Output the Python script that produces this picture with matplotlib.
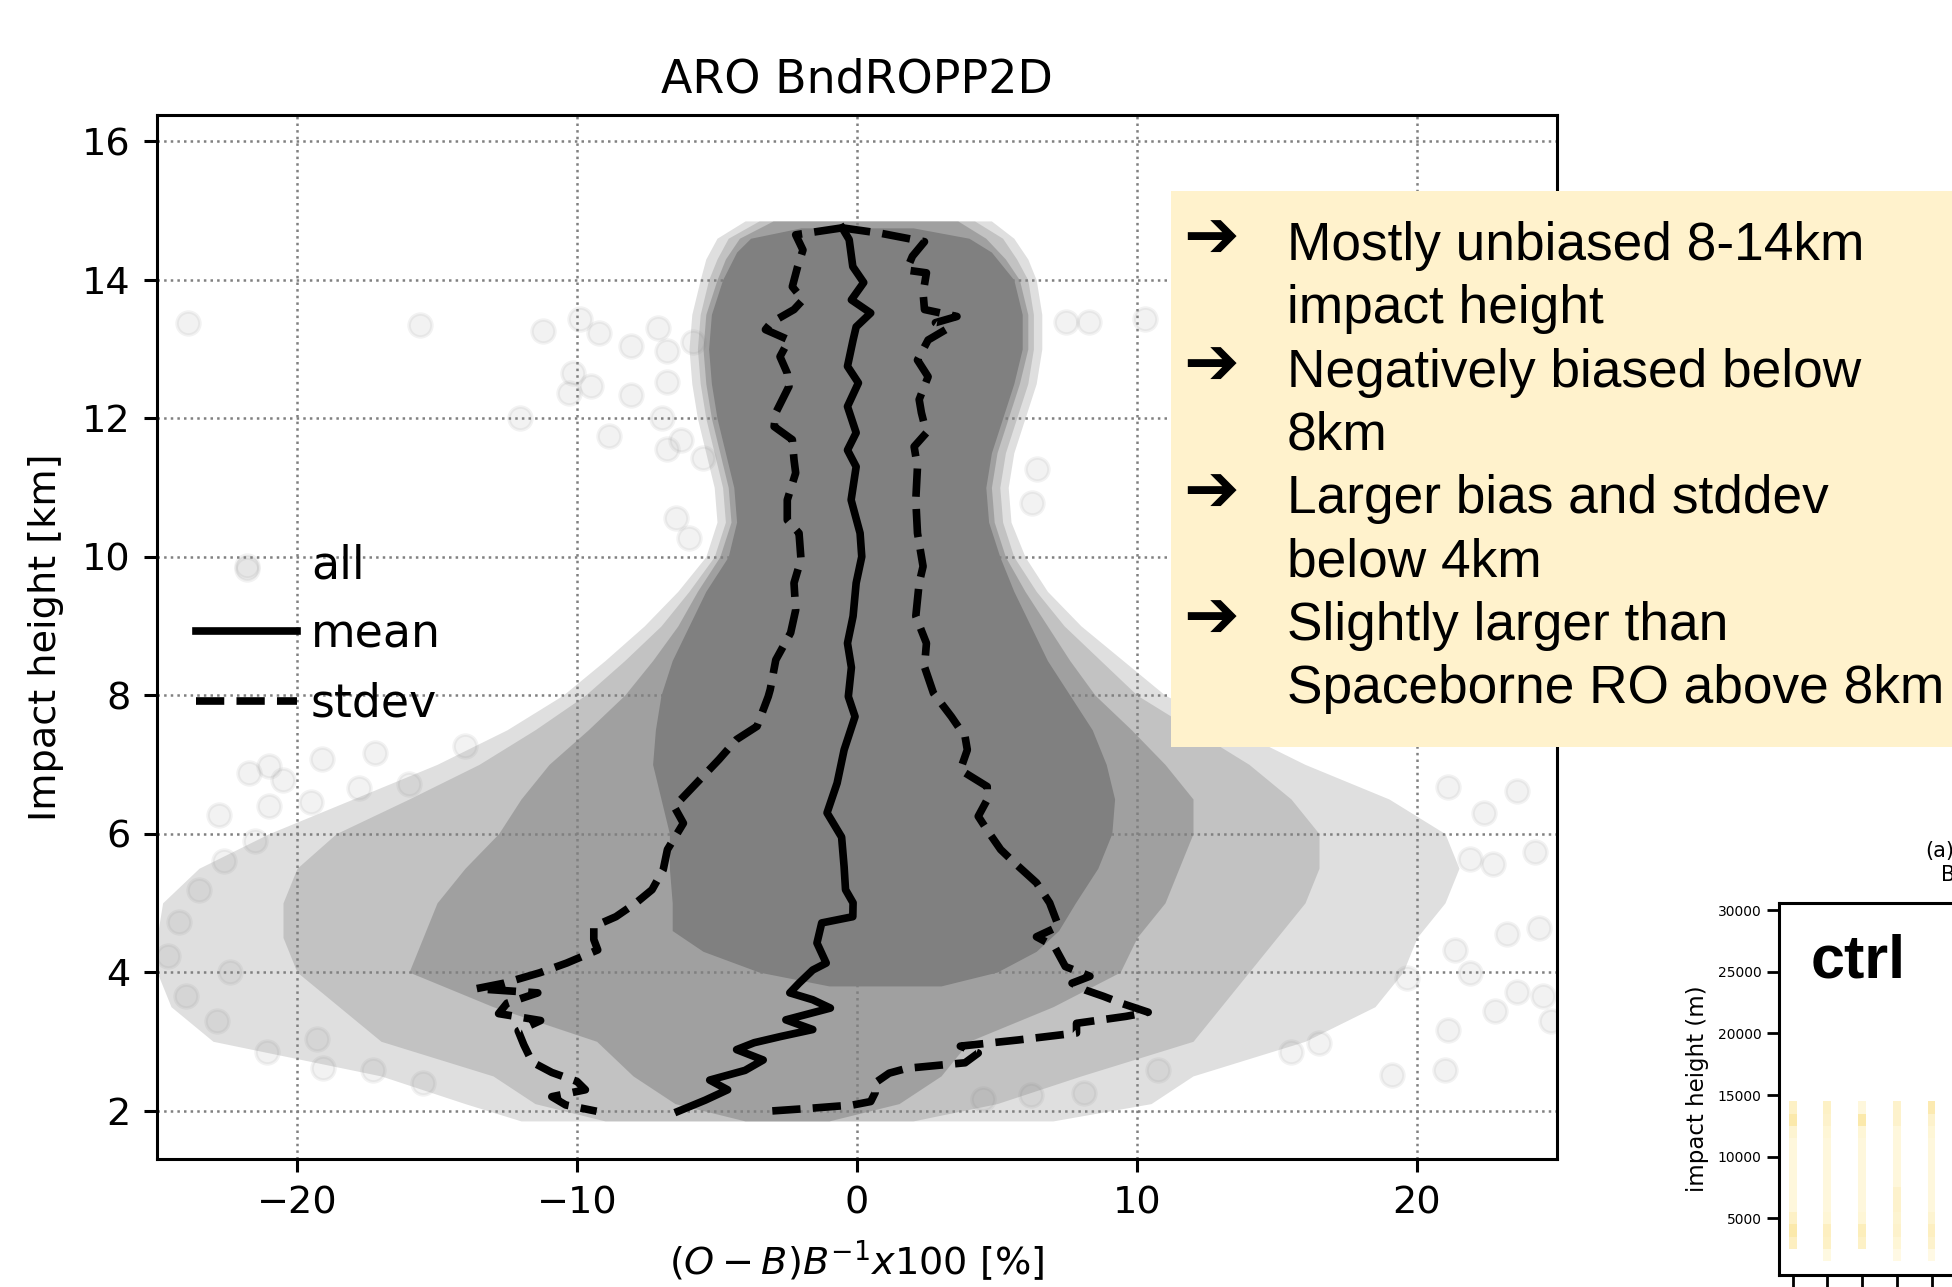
import numpy as np
import matplotlib.pyplot as plt
from matplotlib.patches import Rectangle
from matplotlib.colors import LinearSegmentedColormap

# ---- profile curves (y = impact height km, x = %) ----
mean_y = [14.75, 14.58, 14.19, 13.96, 13.71, 13.52, 13.32, 13.13, 12.75, 12.51, 12.17, 11.79,
          11.54, 11.30, 10.82, 10.34, 10.0, 9.62, 9.14, 8.75, 8.40, 7.98, 7.69, 7.21, 6.73,
          6.30, 5.95, 5.52, 5.19, 5.0, 4.80, 4.71, 4.42, 4.13, 4.03, 3.84, 3.70, 3.60, 3.48,
          3.31, 3.17, 3.07, 2.98, 2.88, 2.73, 2.58, 2.44, 2.30, 2.15, 1.99]
mean_x = [-0.53, -0.28, -0.15, 0.24, -0.2, 0.49, -0.03, -0.14, -0.34, 0.05, -0.34, -0.03,
          -0.34, -0.03, -0.21, 0.11, 0.17, -0.03, -0.14, -0.34, -0.2, -0.31, -0.07, -0.46, -0.71,
          -1.07, -0.55, -0.46, -0.41, -0.14, -0.15, -1.26, -1.43, -1.1, -1.58, -2.07, -2.4, -1.58, -0.95,
          -2.54, -1.58, -2.72, -3.67, -4.3, -3.35, -4.0, -5.26, -4.62, -5.42, -6.38]

stdl_y = [14.75, 14.65, 14.43, 14.19, 13.90, 13.71, 13.57, 13.38, 13.28, 13.13, 12.89, 12.65,
          12.46, 12.08, 11.88, 11.69, 11.40, 11.21, 10.82, 10.53, 10.34, 9.96, 9.62, 9.23, 8.90,
          8.51, 8.08, 7.98, 7.55, 7.36, 7.07, 6.73, 6.39, 6.15, 5.77, 5.48, 5.19, 5.0, 4.80,
          4.66, 4.47, 4.32, 4.13, 3.99, 3.84, 3.76, 3.70, 3.55, 3.40, 3.30, 3.15, 2.95, 2.70,
          2.55, 2.42, 2.30, 2.20, 2.08, 1.99]
stdl_x = [-0.53, -2.19, -1.93, -2.12, -2.31, -1.93, -2.25, -3.07, -3.27, -2.43, -2.75, -2.49,
          -2.43, -2.9, -2.96, -2.31, -2.25, -2.19, -2.49, -2.49, -2.07, -2.0, -2.25, -2.19, -2.37,
          -2.9, -3.1, -3.17, -3.57, -4.3, -4.93, -5.73, -6.53, -6.2, -6.77, -6.92, -7.32, -7.89, -8.61,
          -9.4, -9.4, -9.26, -10.37, -11.33, -12.6, -13.6, -11.4, -12.5, -12.8, -11.3, -12.1, -11.9, -11.6,
          -10.9, -10.0, -9.7, -10.9, -10.4, -9.3]

stdr_y = [14.75, 14.67, 14.55, 14.34, 14.14, 14.10, 13.81, 13.57, 13.47, 13.38, 13.28, 13.13,
          12.84, 12.60, 12.27, 12.08, 11.79, 11.59, 11.30, 10.82, 10.34, 9.86, 9.62, 9.14, 8.75,
          8.41, 8.03, 7.69, 7.40, 7.21, 6.92, 6.68, 6.49, 6.25, 6.05, 5.77, 5.58, 5.29, 5.0,
          4.66, 4.51, 4.37, 4.08, 3.94, 3.84, 3.74, 3.65, 3.55, 3.42, 3.36, 3.26, 3.12, 3.02,
          2.93, 2.83, 2.69, 2.61, 2.54, 2.40, 2.26, 2.13, 2.08, 2.03, 1.99]
stdr_x = [-0.53, 0.87, 2.41, 1.98, 1.77, 2.48, 2.36, 2.41, 3.57, 2.8, 3.17, 2.54,
          2.16, 2.54, 2.22, 2.3, 2.48, 2.04, 2.16, 2.10, 2.16, 2.36, 2.22, 2.10, 2.48,
          2.41, 2.73, 3.37, 3.86, 3.94, 3.69, 4.65, 4.65, 4.33, 4.65, 5.13, 5.62, 6.41, 6.88,
          7.2, 6.41, 7.05, 7.44, 8.32, 7.68, 8.16, 8.8, 9.44, 10.4, 9.6, 7.84, 7.84, 5.77,
          3.69, 4.33, 3.86, 1.78, 1.15, 0.65, 0.65, 0.49, -0.15, -1.75, -3.18]

# ---- extent of the point cloud ("all"), read as envelopes of decreasing density ----
env_y = [14.85, 14.6, 14.3, 14.0, 13.5, 13.0, 12.5, 12.0, 11.5, 11.0, 10.5, 10.0, 9.5, 9.0,
         8.5, 8.0, 7.5, 7.0, 6.5, 6.0, 5.5, 5.0, 4.5, 4.0, 3.5, 3.0, 2.5, 2.1, 1.85]
outer_l = [-4.0, -5.0, -5.4, -5.6, -5.9, -6.0, -5.9, -5.7, -5.4, -5.1, -5.0, -5.4, -6.4, -7.6,
           -9.0, -10.5, -12.5, -15.0, -18.0, -21.0, -23.5, -24.8, -25.0, -25.0, -24.5, -23.0, -17.0, -14.0, -12.0]
outer_r = [4.8, 5.6, 6.1, 6.4, 6.6, 6.6, 6.4, 6.0, 5.6, 5.4, 5.5, 6.0, 6.8, 8.0,
           9.5, 11.0, 13.5, 16.0, 19.0, 21.0, 21.5, 21.0, 20.0, 19.5, 18.5, 16.0, 12.0, 10.5, 7.0]
mid_l = [-3.5, -4.6, -5.0, -5.3, -5.6, -5.7, -5.6, -5.4, -5.1, -4.8, -4.7, -5.1, -6.0, -7.0,
         -8.3, -9.7, -11.5, -13.5, -16.0, -18.6, -20.0, -20.5, -20.5, -20.0, -18.5, -17.0, -13.0, -11.5, -9.0]
mid_r = [4.2, 5.2, 5.7, 6.1, 6.3, 6.3, 6.1, 5.7, 5.3, 5.1, 5.2, 5.6, 6.4, 7.4,
         8.7, 10.0, 12.0, 14.0, 15.5, 16.5, 16.5, 16.0, 15.0, 14.0, 13.0, 12.0, 8.0, 5.0, 2.0]
inner_l = [-3.0, -4.2, -4.7, -5.0, -5.4, -5.5, -5.4, -5.2, -4.9, -4.6, -4.5, -4.9, -5.7, -6.4,
           -7.3, -8.3, -9.6, -11.0, -12.0, -12.8, -14.0, -15.0, -15.5, -16.0, -13.0, -9.3, -8.0, -6.5, -4.0]
inner_r = [3.6, 4.6, 5.3, 5.8, 6.1, 6.1, 5.8, 5.4, 5.0, 4.8, 4.9, 5.3, 6.0, 6.8,
           7.6, 8.5, 9.8, 11.0, 12.0, 12.0, 11.5, 11.0, 10.0, 9.4, 7.0, 4.0, 3.0, 1.5, -1.0]
core_y = [14.75, 14.6, 14.4, 14.0, 13.5, 13.0, 12.5, 12.0, 11.5, 11.0, 10.5, 10.0, 9.5, 9.0,
          8.5, 8.0, 7.5, 7.0, 6.5, 6.0, 5.5, 5.0, 4.6, 4.3, 4.0, 3.8]
core_l = [-2.0, -3.8, -4.3, -4.8, -5.2, -5.3, -5.2, -5.0, -4.7, -4.4, -4.3, -4.6, -5.4, -6.0,
          -6.6, -7.0, -7.2, -7.3, -7.0, -6.7, -6.7, -6.6, -6.6, -5.5, -3.5, -1.0]
core_r = [2.0, 4.0, 4.8, 5.6, 5.9, 5.9, 5.6, 5.2, 4.8, 4.6, 4.7, 5.1, 5.6, 6.2,
          6.8, 7.6, 8.4, 8.9, 9.2, 9.1, 8.6, 7.8, 7.2, 6.4, 5.0, 3.0]

# isolated points outside the dense cloud
pts_x = [-23.9, -15.6, -11.2, -9.9, -9.2, -8.07, -7.1, -6.8, -5.84, -10.15, -9.5, -10.3, -8.07,
         -6.8, -12.05, -8.86, -6.97, -6.8, -5.5, -6.3, -6.47, -5.99, -21.8,
         -21.7, -21.0, -20.5, -19.1, -17.2, -22.8, -21.0, -19.5, -17.8, -16.0, -14.0,
         7.47, 8.3, 10.27, 6.42, 6.24,
         23.56, 22.4, 24.2, 22.7, 21.1, 23.2, 21.9, 23.56, 21.1, 15.5, 16.5, 19.1,
         24.5, 24.35, 21.35, 22.77, 21.0, 19.66, 24.8, 21.9,
         6.22, 8.1, 10.76, 4.5,
         -24.2, -24.6, -23.97, -22.85, -21.07, -22.4, -19.06, -23.5, -22.6, -21.5, -19.3, -17.3, -15.5]
pts_y = [13.37, 13.34, 13.26, 13.43, 13.23, 13.05, 13.30, 12.97, 13.10, 12.65, 12.46, 12.37, 12.33,
         12.53, 12.0, 11.75, 12.0, 11.56, 11.43, 11.69, 10.56, 10.27, 9.82,
         6.88, 6.98, 6.78, 7.08, 7.17, 6.27, 6.40, 6.46, 6.66, 6.72, 7.27,
         13.39, 13.39, 13.44, 11.27, 10.77,
         6.62, 6.30, 5.74, 5.56, 6.67, 4.55, 3.99, 3.71, 3.17, 2.85, 2.98, 2.52,
         3.65, 4.64, 4.32, 3.44, 2.58, 3.92, 3.29, 5.63,
         2.22, 2.25, 2.58, 2.16,
         4.73, 4.23, 3.65, 3.29, 2.85, 4.0, 2.61, 5.18, 5.6, 5.9, 3.03, 2.58, 2.4]

box_lines = ["Mostly unbiased 8-14km", "impact height", "Negatively biased below", "8km",
             "Larger bias and stddev", "below 4km", "Slightly larger than",
             "Spaceborne RO above 8km"]
box_arrow = [True, False, True, False, True, False, True, False]

# small panel in the corner: 5 columns, 1000 m bins
inset_cols = [0, 1, 2, 3, 4]
inset_bins = [14000, 13000, 12000, 11000, 10000, 9000, 8000, 7000, 6000, 5000, 4000, 3000, 2000]
inset_vals = [
    [0.35, 0.6, 0.25, 0.15, 0.15, 0.15, 0.15, 0.15, 0.15, 0.35, 0.6, 0.4, None],
    [0.35, 0.3, 0.2, 0.15, 0.15, 0.15, 0.15, 0.15, 0.15, 0.2, 0.4, 0.35, 0.1],
    [0.15, 0.6, 0.2, 0.15, 0.15, 0.15, 0.15, 0.15, 0.15, 0.2, 0.45, 0.35, None],
    [0.3, 0.3, 0.15, 0.15, 0.15, 0.15, 0.15, 0.3, 0.3, 0.25, 0.3, 0.2, 0.08],
    [0.55, 0.3, 0.2, 0.15, 0.15, 0.15, 0.15, 0.15, 0.15, 0.25, 0.4, 0.3, 0.08],
]

W, H = 1952, 1287
fig = plt.figure(figsize=(W / 100, H / 100), dpi=100)
ax = fig.add_axes([157 / W, 1 - 1159 / H, 1400 / W, 1044 / H])

ax.fill_betweenx(env_y, outer_l, outer_r, color='gray', alpha=0.25, lw=0, zorder=1)
ax.fill_betweenx(env_y, mid_l, mid_r, color='gray', alpha=0.3, lw=0, zorder=1)
ax.fill_betweenx(env_y, inner_l, inner_r, color='gray', alpha=0.5, lw=0, zorder=1)
ax.fill_betweenx(core_y, core_l, core_r, color='gray', lw=0, zorder=1)
sc = ax.scatter(pts_x, pts_y, s=272, color='gray', alpha=0.1, linewidths=2.5, zorder=1, label='all')

lw = 5.5
l1, = ax.plot(mean_x, mean_y, color='k', lw=lw, label='mean')
l2, = ax.plot(stdl_x, stdl_y, color='k', ls='--', lw=lw, label='stdev')
ax.plot(stdr_x, stdr_y, color='k', ls='--', lw=lw)

ax.set_xlim(-25, 25)
ax.set_ylim(1.3, 16.38)
ax.set_xticks([-20, -10, 0, 10, 20])
ax.set_yticks([2, 4, 6, 8, 10, 12, 14, 16])
ax.grid(True, ls=':', color='gray', lw=1.8)
ax.tick_params(labelsize=27.5, length=9.6, width=2.2, pad=9.6)
for s in ax.spines.values():
    s.set_linewidth(2.2)
ax.set_title('ARO BndROPP2D', fontsize=33, pad=16.5)
ax.set_xlabel(r'$(O-B)B^{-1}x100$ [%]', fontsize=27.5, labelpad=12)
ax.set_ylabel('Impact height [km]', fontsize=27.5, labelpad=13)
ax.legend(handles=[sc, l1, l2], loc='center left', bbox_to_anchor=(0.015, 0.502),
          frameon=False, fontsize=33, handlelength=2.2, handletextpad=0.3,
          labelspacing=0.53, borderaxespad=0, scatterpoints=1)

# text box over the right part
fig.add_artist(Rectangle((1171 / W, 1 - 747 / H), 1 - 1171 / W, (747 - 191) / H,
                         transform=fig.transFigure, facecolor='#FFF2CC', edgecolor='none', zorder=5))
for i, (txt, arr) in enumerate(zip(box_lines, box_arrow)):
    yb = 1 - (260 + 63.33 * i) / H
    if arr:
        fig.text(1211 / W, yb + 0.002, '\u2794', ha='center', va='baseline', fontsize=48,
                 family=['Liberation Sans', 'DejaVu Sans'], zorder=6)
    fig.text(1287 / W, yb, txt, ha='left', va='baseline', fontsize=38.3,
             family=['Liberation Sans', 'DejaVu Sans'], zorder=6)

# corner panel
ax2 = fig.add_axes([1779 / W, 1 - 1275 / H, 521 / W, (1275 - 902.7) / H])
cmap = LinearSegmentedColormap.from_list('pale', ['#FFFCEC', '#F9DC80'])
for c, col in zip(inset_cols, inset_vals):
    for b, v in zip(inset_bins, col):
        if v is None:
            continue
        ax2.bar(c, 1000, bottom=b - 500, width=0.23, color=cmap(v), lw=0)
ax2.set_xlim(-0.395, 14.62)
ax2.set_ylim(400, 30600)
ax2.set_yticks([5000, 10000, 15000, 20000, 25000, 30000])
ax2.set_xticks(inset_cols)
ax2.set_xticklabels([])
ax2.tick_params(labelsize=10, length=9, width=2)
for s in ax2.spines.values():
    s.set_linewidth(2.2)
ax2.set_ylabel('impact height (m)', fontsize=16.5, labelpad=6)
ax2.text(0.06, 0.80, 'ctrl', transform=ax2.transAxes, fontsize=44, fontweight='bold',
         family=['Liberation Sans', 'DejaVu Sans'], va='baseline')
fig.text(1925 / W, 1 - 857 / H, '(a)', fontsize=15, va='baseline')
fig.text(1941 / W, 1 - 881 / H, 'B', fontsize=15, va='baseline')

fig.savefig('out.png', dpi=100)
